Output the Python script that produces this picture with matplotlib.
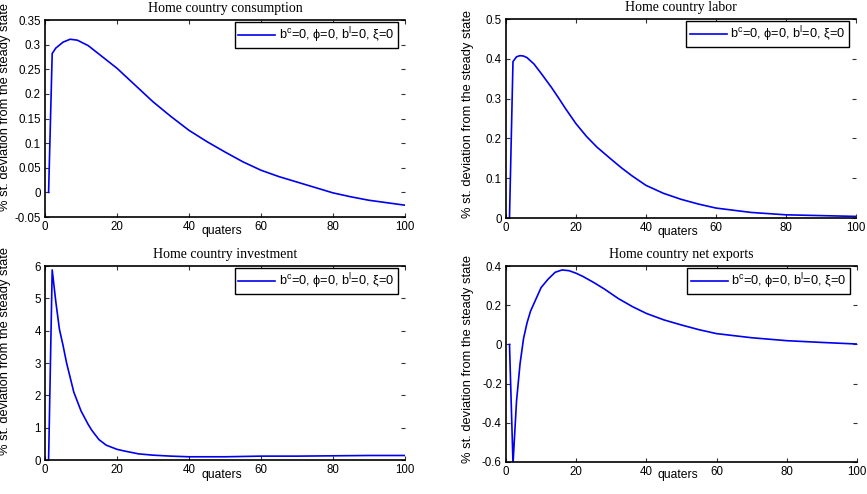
import matplotlib.pyplot as plt

plt.rcParams['font.family'] = ['Liberation Sans', 'DejaVu Sans']
plt.rcParams['mathtext.fontset'] = 'custom'
plt.rcParams['mathtext.rm'] = 'Liberation Sans'

# consumption
t_cons = [1, 2, 3, 5, 7, 9, 12, 16, 20, 25, 30, 35, 40, 45, 50, 55, 60, 65, 70, 75, 80, 85, 90, 95, 100]
cons = [0, 0.282, 0.293, 0.305, 0.311, 0.309, 0.298, 0.275, 0.252, 0.218, 0.184, 0.154, 0.126, 0.103,
        0.082, 0.062, 0.045, 0.032, 0.021, 0.010, -0.001, -0.009, -0.016, -0.021, -0.026]

# labor
t_lab = [1, 2, 3, 4, 5, 6, 8, 10, 13, 15, 17, 20, 23, 26, 30, 33, 36, 40, 45, 50, 55, 60, 70, 80, 90, 100]
lab = [0, 0.393, 0.405, 0.408, 0.407, 0.403, 0.387, 0.364, 0.328, 0.302, 0.275, 0.237, 0.205, 0.178,
       0.148, 0.126, 0.106, 0.082, 0.062, 0.047, 0.035, 0.025, 0.014, 0.008, 0.006, 0.004]

# investment
t_inv = [1, 2, 3, 4, 5, 6, 7, 8, 10, 12, 13, 15, 17, 20, 22, 26, 30, 35, 40, 50, 60, 70, 80, 90, 100]
inv = [0, 5.88, 4.9, 4.05, 3.55, 3.0, 2.55, 2.1, 1.52, 1.1, 0.92, 0.63, 0.46, 0.33, 0.28, 0.19, 0.15,
       0.12, 0.10, 0.10, 0.12, 0.12, 0.13, 0.14, 0.14]

# net exports
t_nx = [1, 2, 3, 4, 5, 6, 7, 8, 10, 12, 14, 16, 18, 20, 22, 25, 28, 32, 36, 40, 45, 50, 55, 60, 70, 80, 90, 100]
nx = [0, -0.61, -0.29, -0.1, 0.03, 0.11, 0.17, 0.21, 0.29, 0.333, 0.368, 0.38, 0.376, 0.363, 0.346, 0.316,
      0.283, 0.234, 0.193, 0.158, 0.125, 0.099, 0.075, 0.055, 0.034, 0.019, 0.010, 0.002]

legend_label = r'b$^\mathregular{c}$=0, ϕ=0, b$^\mathregular{l}$=0, ξ=0'
ylab = '% st. deviation from the steady state'

panels = [
    ('Home country consumption', t_cons, cons, (-0.05, 0.35), [-0.05, 0, 0.05, 0.1, 0.15, 0.2, 0.25, 0.3, 0.35],
     ['-0.05', '0', '0.05', '0.1', '0.15', '0.2', '0.25', '0.3', '0.35'], [0.0519, 0.5607, 0.4152, 0.3988],
     -0.07, (-0.111, 0.56)),
    ('Home country labor', t_lab, lab, (0, 0.5), [0, 0.1, 0.2, 0.3, 0.4, 0.5],
     ['0', '0.1', '0.2', '0.3', '0.4', '0.5'], [0.5836, 0.5587, 0.4037, 0.4028], -0.07, (-0.109, 0.525)),
    ('Home country investment', t_inv, inv, (0, 6), [0, 1, 2, 3, 4, 5, 6],
     ['0', '1', '2', '3', '4', '5', '6'], [0.0519, 0.0688, 0.4152, 0.3927], -0.077, (-0.111, 0.56)),
    ('Home country net exports', t_nx, nx, (-0.6, 0.4), [-0.6, -0.4, -0.2, 0, 0.2, 0.4],
     ['-0.6', '-0.4', '-0.2', '0', '0.2', '0.4'], [0.5836, 0.0648, 0.4049, 0.3967], -0.066, (-0.109, 0.523)),
]

fig = plt.figure(figsize=(8.67, 4.94), dpi=100)

for title, x, y, ylim, yt, ytl, pos, xl_y, yl_xy in panels:
    ax = fig.add_axes(pos)
    ax.plot(x, y, color='#0000ee', lw=1.2, label=legend_label)
    ax.set_xlim(0, 100)
    ax.set_ylim(*ylim)
    ax.set_xticks([0, 20, 40, 60, 80, 100])
    ax.set_yticks(yt)
    ax.set_yticklabels(ytl)
    ax.tick_params(labelsize=8.3, direction='in', top=True, right=True, length=3, color='#333333', pad=3)
    ax.spines['right'].set_visible(False)
    for s in ['left', 'top', 'bottom']:
        ax.spines[s].set_linewidth(1.2)
    ax.set_title(title, family='Liberation Serif', fontsize=10, pad=6)
    ax.set_ylabel(ylab, fontsize=9.3, va='center')
    ax.yaxis.set_label_coords(*yl_xy)
    ax.set_xlabel('quaters', fontsize=8.7, va='center')
    ax.xaxis.set_label_coords(0.49, xl_y)
    ax.legend(loc='upper right', bbox_to_anchor=(0.98, 0.99), fontsize=9.2, handlelength=2.9,
              fancybox=False, edgecolor='black', framealpha=1, borderpad=0.25, borderaxespad=0,
              handletextpad=0.3)

fig.savefig('out.png', dpi=100)
